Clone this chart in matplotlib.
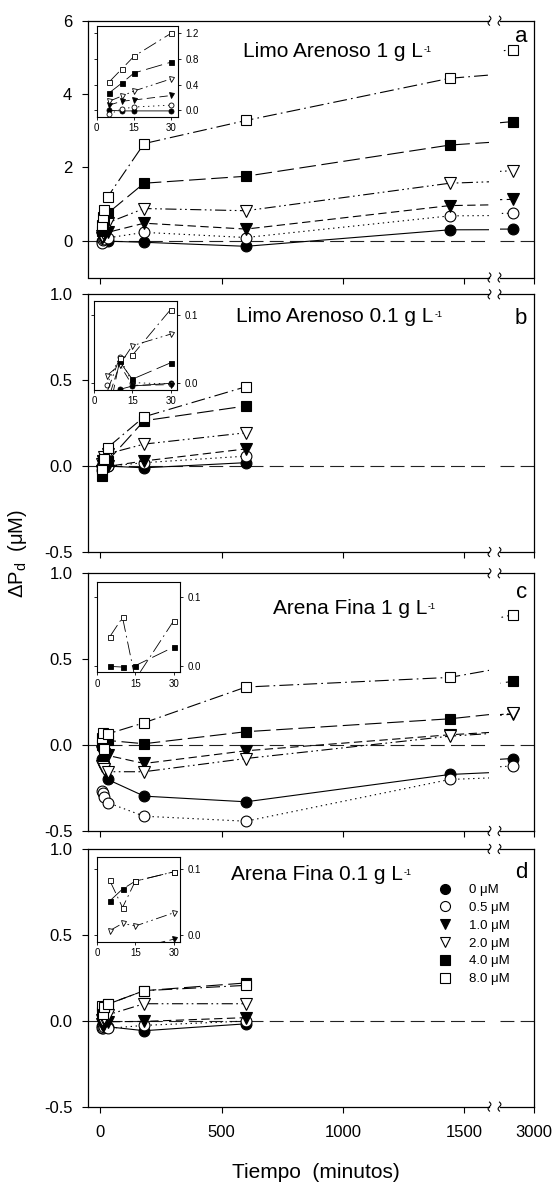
import numpy as np
import matplotlib.pyplot as plt
from matplotlib.lines import Line2D

plt.rcParams['font.family'] = ['Liberation Sans', 'DejaVu Sans']
plt.rcParams['axes.unicode_minus'] = False
plt.rcParams['lines.scale_dashes'] = False
plt.rcParams['axes.linewidth'] = 0.9

# tiempos de muestreo (minutos)
TIEMPO = [5, 10, 15, 30, 180, 600, 1440, 2880]
TIEMPO_CORTO = [5, 10, 15, 30, 180, 600]
CONCENTRACIONES = ['0', '0.5', '1.0', '2.0', '4.0', '8.0']

# delta Pd (uM), una fila por concentracion agregada
LIMO_1G = [
    [0.00, -0.01, -0.01, -0.01, -0.04, -0.15, 0.30, 0.32],
    [-0.06, 0.02, 0.05, 0.08, 0.23, 0.09, 0.68, 0.75],
    [0.08, 0.14, 0.16, 0.23, 0.48, 0.32, 0.96, 1.13],
    [0.14, 0.22, 0.30, 0.49, 0.88, 0.82, 1.57, 1.91],
    [0.27, 0.42, 0.58, 0.75, 1.57, 1.76, 2.61, 3.25],
    [0.44, 0.64, 0.84, 1.20, 2.65, 3.28, 4.43, 5.21],
]
LIMO_01G = [
    [-0.020, -0.009, -0.004, 0.000, -0.010, 0.020],
    [-0.002, 0.038, 0.001, -0.001, 0.020, 0.058],
    [-0.030, 0.028, -0.003, -0.002, 0.030, 0.100],
    [0.011, 0.027, 0.055, 0.072, 0.128, 0.194],
    [-0.058, 0.032, 0.006, 0.030, 0.264, 0.350],
    [-0.014, 0.037, 0.041, 0.108, 0.287, 0.462],
]
ARENA_1G = [
    [-0.080, -0.090, -0.110, -0.200, -0.297, -0.330, -0.171, -0.078],
    [-0.270, -0.280, -0.300, -0.335, -0.414, -0.443, -0.200, -0.122],
    [-0.040, -0.050, -0.050, -0.060, -0.107, -0.033, 0.060, 0.180],
    [-0.120, -0.130, -0.140, -0.155, -0.155, -0.078, 0.052, 0.184],
    [-0.001, -0.002, 0.000, 0.027, 0.008, 0.078, 0.153, 0.371],
    [0.042, 0.070, -0.020, 0.065, 0.130, 0.338, 0.394, 0.759],
]
ARENA_01G = [
    [-0.030, -0.035, -0.030, -0.035, -0.058, -0.018],
    [-0.045, -0.040, -0.035, -0.045, -0.027, -0.002],
    [-0.020, -0.030, -0.020, -0.006, -0.004, 0.018],
    [0.007, 0.018, 0.014, 0.034, 0.099, 0.099],
    [0.052, 0.070, 0.082, 0.096, 0.175, 0.220],
    [0.083, 0.042, 0.082, 0.096, 0.175, 0.206],
]

TITULOS = ['Limo Arenoso 1 g L', 'Limo Arenoso 0.1 g L',
           'Arena Fina 1 g L', 'Arena Fina 0.1 g L']
LETRAS = ['a', 'b', 'c', 'd']

MARCAS = ['o', 'o', 'v', 'v', 's', 's']
RELLENO = ['black', 'white', 'black', 'white', 'black', 'white']
TAMANO = [7.8, 7.8, 8.5, 8.5, 7.4, 7.4]
TRAZOS = ['-', (0, (1, 2.6)), (0, (6, 3.2)), (0, (8, 2.5, 1.2, 2.5, 1.2, 2.5)),
          (0, (12, 4)), (0, (10, 3, 1.2, 3))]

W, H = 553, 1184
fig = plt.figure(figsize=(W / 100, H / 100), dpi=100)


def caja(x0, y0, x1, y1):
    # pixeles (origen arriba-izquierda) -> fraccion de figura
    return [x0 / W, 1 - y1 / H, (x1 - x0) / W, (y1 - y0) / H]


def quiebre(xc, yc):
    t = np.linspace(-1, 1, 40)
    xs = xc - 1.4 * np.sin(np.pi * t)
    ys = yc + 4.5 * t
    fig.add_artist(Line2D(xs / W, 1 - ys / H, transform=fig.transFigure,
                          color='black', lw=0.8))


paneles = [(20.7, 277.5), (294.3, 552), (573.3, 831), (849, 1106.6)]
recuadros = [(96.7, 26, 177.7, 116.7), (94, 301, 177, 390),
             (97, 582.3, 180, 672.3), (97, 856.7, 180, 942)]
limites_y = [(-1, 6), (-0.5, 1.0), (-0.5, 1.0), (-0.5, 1.0)]
limites_rec = [(-0.1, 1.31), (-0.0098, 0.1205), (-0.0096, 0.121), (-0.0102, 0.119)]
ticks_y = [[0, 2, 4, 6], [-0.5, 0, 0.5, 1.0], [-0.5, 0, 0.5, 1.0], [-0.5, 0, 0.5, 1.0]]
ticks_rec = [[0.0, 0.4, 0.8, 1.2], [0.0, 0.1], [0.0, 0.1], [0.0, 0.1]]
pos_titulo = [(333, 51.7), (335, 316.7), (350, 608), (316.5, 874)]
pos_letra = [(521, 36), (521, 319), (522, 593), (521, 872)]
datos = [LIMO_1G, LIMO_01G, ARENA_1G, ARENA_01G]

for i, (arriba, abajo) in enumerate(paneles):
    serie = datos[i]
    t = TIEMPO if len(serie[0]) == len(TIEMPO) else TIEMPO_CORTO

    izq = fig.add_axes(caja(88.3, arriba, 489, abajo))
    der = fig.add_axes(caja(500, arriba, 534.3, abajo), sharey=izq)

    for ax in (izq, der):
        ax.axhline(0, color='#222222', lw=0.8, ls=(0, (10, 4.5)), zorder=1)
        for k in range(6):
            ax.plot(t, serie[k], color='black', lw=0.8, ls=TRAZOS[k],
                    marker=MARCAS[k], ms=TAMANO[k], mfc=RELLENO[k],
                    mec='black', mew=0.8, zorder=2 + k)
        ax.tick_params(direction='out', length=4, width=0.8, labelsize=12, pad=9)

    izq.set_xlim(-50, 1602)
    der.set_xlim(2811, 3000)
    izq.set_ylim(*limites_y[i])
    izq.set_xticks([0, 500, 1000, 1500])
    der.set_xticks([3000])
    izq.set_yticks(ticks_y[i])
    if i == 0:
        izq.set_yticklabels([str(v) for v in ticks_y[i]])
    else:
        izq.set_yticklabels([f'{v:.1f}' for v in ticks_y[i]])
    izq.tick_params(axis='y', pad=7.5)
    izq.spines['right'].set_visible(False)
    der.spines['left'].set_visible(False)
    der.tick_params(axis='y', left=False, right=False, labelleft=False)
    if i < 3:
        izq.tick_params(axis='x', labelbottom=False)
        der.tick_params(axis='x', labelbottom=False)

    for yq in (arriba, abajo):
        quiebre(489.5, yq)
        quiebre(499.5, yq)

    titulo = fig.text(pos_titulo[i][0] / W, 1 - pos_titulo[i][1] / H, TITULOS[i],
                      fontsize=15, ha='center', va='center')
    # exponente -1 de L
    izq.annotate('-1', xy=(1, 1), xycoords=titulo, xytext=(0.6, -2.2),
                 textcoords='offset points', fontsize=6.5, ha='left', va='top')
    fig.text(pos_letra[i][0] / W, 1 - pos_letra[i][1] / H, LETRAS[i],
             fontsize=16, ha='center', va='center')

    # recuadro con los primeros 30 minutos
    rec = fig.add_axes(caja(*recuadros[i]))
    for k in range(6):
        rec.plot(t[:4], serie[k][:4], color='black', lw=0.6, ls=TRAZOS[k],
                 marker=MARCAS[k], ms=3.6, mfc=RELLENO[k], mec='black', mew=0.6)
    rec.set_xlim(0, 32.5)
    rec.set_ylim(*limites_rec[i])
    rec.set_xticks([0, 15, 30])
    rec.set_yticks(ticks_rec[i])
    rec.set_yticklabels([f'{v:.1f}' for v in ticks_rec[i]])
    rec.tick_params(direction='out', length=2.5, width=0.6, labelsize=7, pad=2)
    rec.tick_params(axis='y', left=True, right=True, labelleft=False, labelright=True, pad=3)
    for s in rec.spines.values():
        s.set_linewidth(0.8)

manejadores = [Line2D([], [], ls='none', marker=MARCAS[k], ms=TAMANO[k] - 0.6,
                      mfc=RELLENO[k], mec='black', mew=0.8) for k in range(6)]
etiquetas = [f'{c} μM' for c in CONCENTRACIONES]
fig.legend(manejadores, etiquetas, loc='upper left',
           bbox_to_anchor=(438.5 / W, 1 - 884 / H), frameon=False, fontsize=9.5,
           handlelength=1.0, handletextpad=1.3, labelspacing=0.42, borderpad=0,
           borderaxespad=0)

fig.text(18 / W, 1 - 553 / H, 'ΔP$_{\\mathregular{d}}$  (μM)', rotation=90,
         fontsize=14.5, ha='center', va='center')
fig.text(316 / W, 1 - 1172 / H, 'Tiempo  (minutos)', fontsize=15,
         ha='center', va='center')

fig.savefig('out.png', dpi=100)
